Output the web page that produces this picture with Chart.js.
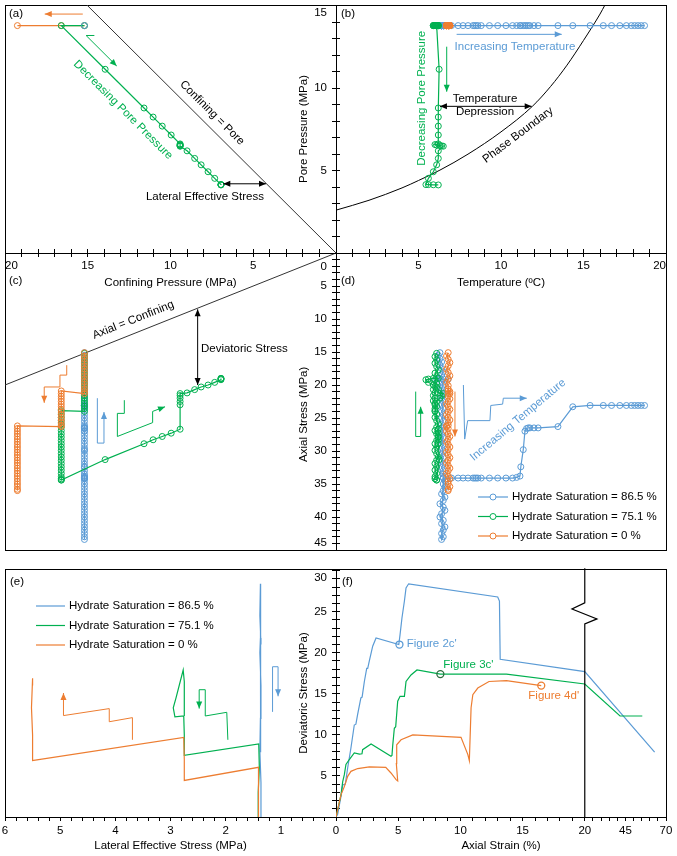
<!DOCTYPE html>
<html>
<head>
<meta charset="utf-8">
<title>Hydrate sample stress paths</title>
<script src="https://cdn.jsdelivr.net/npm/chart.js@4.4.1/dist/chart.umd.min.js"></script>
<style>
  body { margin: 0; background: #fff; }
  #fig { position: relative; width: 677px; height: 856px; overflow: hidden; }
  #fig canvas { position: absolute; }
  .frame { position: absolute; box-sizing: border-box; border: 1px solid #000; }
</style>
</head>
<body>
<div id="fig">
  <div class="frame" style="left:5px;top:5px;width:662px;height:546px"></div>
  <div class="frame" style="left:5px;top:569px;width:662px;height:249px;border-bottom:none"></div>
  <canvas id="pa" width="341" height="300" style="left:0;top:0"></canvas>
  <canvas id="pb" width="377" height="300" style="left:290px;top:0"></canvas>
  <canvas id="pc" width="341" height="305" style="left:0;top:248px"></canvas>
  <canvas id="pd" width="377" height="305" style="left:290px;top:248px"></canvas>
  <canvas id="pe" width="341" height="292" style="left:0;top:564px"></canvas>
  <canvas id="pf" width="387" height="292" style="left:290px;top:564px"></canvas>
</div>
<script>
const FONT = "'Liberation Sans', Arial, Helvetica, sans-serif";
Chart.defaults.font.family = FONT;
Chart.defaults.font.size = 11.5;
Chart.defaults.color = '#000';

const BLUE = '#5B9BD5', GREEN = '#00B050', ORANGE = '#ED7D31', DARKGREEN = '#2E6B3F';

const labelBlue = 'Hydrate Saturation = 86.5 %';
const labelGreen = 'Hydrate Saturation = 75.1 %';
const labelOrange = 'Hydrate Saturation = 0 %';

// --- test conditions (MPa) ---
const initialPore = 13.8;
const confStart = 15.2;   // all samples
const confStep2 = 16.6;   // 75.1 % and 0 %
const confStep3 = 19.25;  // 0 % only
const unitLine = [0, 20]; // confining = pore, axial = confining

// --- 86.5 %: axial loading at 15.2 MPa confining ---
const blueLoadAxial = [
  15.1, 15.5, 16.0, 16.5, 17.0, 17.5, 18.0, 18.5, 19.0,
  19.1, 19.1, 19.1,
  19.5, 20.0, 20.5, 21.0, 21.5, 22.0, 22.5, 23.0, 23.5, 24.0,
  24.5, 25.0, 25.5, 26.0, 26.5, 27.0, 27.5, 28.0, 28.5, 29.0,
  29.5, 30.0, 30.5, 31.0, 31.5, 32.0, 32.5, 33.0, 33.5, 34.0,
  34.5, 35.0, 35.5, 36.0, 36.5, 37.0, 37.5, 38.0, 38.5, 39.0,
  39.5, 40.0, 40.5, 41.0, 41.5, 42.0, 42.5, 43.0, 43.4
];
const blueLoadTemp = [
  6.3, 6.2, 6.3, 6.4, 6.3, 6.4, 6.5, 6.4, 6.3,
  6.1, 6.5, 6.8,
  6.4, 6.5, 6.4, 6.4, 6.5, 6.4, 6.5, 6.4, 6.5, 6.4,
  6.5, 6.4, 6.5, 6.4, 6.4, 6.5, 6.4, 6.5, 6.4, 6.5,
  6.4, 6.5, 6.4, 6.5, 6.4, 6.5, 6.4, 6.5, 6.5, 6.5,
  6.6, 6.5, 6.6, 6.5, 6.4, 6.6, 6.5, 6.3, 6.5, 6.6,
  6.4, 6.3, 6.5, 6.4, 6.6, 6.5, 6.4, 6.5, 6.4
];
// --- 86.5 %: heating ---
const blueHeatTemp = [
  6.5, 7.0, 7.4, 7.7, 8.0, 8.3, 8.4, 8.5, 8.6, 8.8,
  9.3, 9.8, 10.3, 10.7, 10.95, 11.15, 11.2, 11.35, 11.45, 11.55,
  11.65, 11.75, 12.0, 12.25, 13.45, 14.35, 15.4, 16.2, 16.7, 17.2,
  17.6, 17.9, 18.1, 18.3, 18.5, 18.7
];
const blueHeatAxial = [
  34.1, 34.1, 34.1, 34.1, 34.1, 34.1, 34.1, 34.1, 34.1, 34.1,
  34.1, 34.1, 34.1, 34.1, 34.0, 33.8, 32.4, 29.8, 27.0, 26.6,
  26.5, 26.5, 26.5, 26.5, 26.3, 23.3, 23.1, 23.1, 23.1, 23.1,
  23.1, 23.1, 23.1, 23.1, 23.1, 23.1
];

// --- 75.1 %: loading at 15.2 then 16.6 MPa confining ---
const greenLoad1Axial = [15.2, 15.7, 16.2, 16.7, 17.2, 17.7, 18.2, 18.7, 19.2, 19.7,
  20.2, 20.7, 21.2, 21.6, 22.0, 22.4, 22.8, 23.2, 23.6, 24.0];
const greenLoad1Temp = [6.1, 6.0, 6.1, 6.0, 6.1, 6.2, 6.0, 6.1, 6.0, 6.1,
  6.0, 5.9, 6.0, 5.9, 6.0, 5.9, 6.0, 6.1, 6.0, 6.0];
const greenLoad2Axial = [23.9, 24.4, 24.9, 25.4, 25.9, 26.4, 26.9, 27.4, 27.9, 28.4,
  28.9, 29.4, 29.9, 30.4, 30.9, 31.4, 31.9, 32.4, 32.9, 33.4, 33.9, 34.2, 34.4];
const greenLoad2Temp = [6.0, 6.1, 6.0, 6.1, 6.2, 6.1, 6.0, 6.1, 6.2, 6.1,
  6.0, 6.1, 6.0, 6.1, 6.2, 6.1, 6.0, 6.1, 6.0, 6.1, 6.0, 6.0, 6.1];
// --- 75.1 %: depressurisation ---
const greenDepConf  = [16.6, 13.95, 11.6, 11.05, 10.5, 9.96, 9.42, 9.42, 9.42, 9.42, 9.42, 9.42,
  9.0, 8.54, 8.15, 7.73, 7.33, 6.95, 6.95, 6.95, 6.95];
const greenDepPore  = [13.8, 11.15, 8.8, 8.25, 7.7, 7.16, 6.62, 6.58, 6.55, 6.52, 6.5, 6.48,
  6.2, 5.74, 5.35, 4.93, 4.53, 4.15, 4.15, 4.14, 4.13];
const greenDepAxial = [34.4, 31.3, 28.9, 28.3, 27.8, 27.3, 26.7, 23.0, 22.5, 22.0, 21.6, 21.3,
  21.2, 20.7, 20.3, 20.0, 19.6, 19.2, 19.1, 19.0, 19.0];
const greenDepTemp  = [6.1, 6.25, 6.2, 6.2, 6.2, 6.2, 6.2, 6.0, 6.1, 6.3, 6.4, 6.5,
  6.2, 6.2, 6.1, 5.9, 5.6, 5.45, 5.6, 5.9, 6.2];

// --- 0 %: loading at 15.2, 16.6 and 19.25 MPa confining ---
const orangeLoad1Axial = [15.1, 15.6, 16.1, 16.6, 17.1, 17.6, 18.1, 18.6, 19.1, 19.6, 20.1, 20.6, 21.0, 21.3];
const orangeLoad1Temp  = [6.8, 6.7, 6.8, 6.9, 6.8, 6.7, 6.8, 6.9, 6.8, 6.7, 6.8, 6.8, 6.9, 6.8];
const orangeLoad2Axial = [20.9, 21.3, 21.7, 22.1, 22.5, 22.9, 23.3, 23.7, 24.1, 24.5, 24.9, 25.3, 25.7, 26.1, 26.3];
const orangeLoad2Temp  = [6.8, 6.9, 6.8, 6.9, 6.8, 6.7, 6.8, 6.9, 6.8, 6.7, 6.8, 6.9, 6.8, 6.8, 6.7];
const orangeLoad3Axial = [26.2, 26.6, 27.0, 27.4, 27.8, 28.2, 28.6, 29.0, 29.4, 29.8,
  30.2, 30.6, 31.0, 31.4, 31.8, 32.2, 32.6, 33.0, 33.4, 33.8, 34.2, 34.6, 35.0, 35.4, 35.8, 36.0];
const orangeLoad3Temp  = [6.7, 6.8, 6.7, 6.8, 6.9, 6.8, 6.7, 6.8, 6.9, 6.8,
  6.7, 6.8, 6.9, 6.8, 6.7, 6.8, 6.9, 6.8, 6.7, 6.8, 6.9, 6.8, 6.8, 6.9, 6.8, 6.8];

// --- methane hydrate phase boundary ---
const phaseTemp = [0, 2, 4, 5, 6.3, 8, 10, 11.9, 13, 14, 15, 16, 16.3, 16.6];
const phasePore = [2.6, 3.2, 3.95, 4.4, 5.03, 6.0, 7.35, 8.9, 10.1, 11.4, 12.9, 14.5, 15.05, 15.6];

// --- (e) lateral effective stress vs deviatoric stress ---
const blueLateral   = [1.37, 1.36, 1.38, 1.37, 1.36, 1.38, 1.37, 1.36, 1.38, 1.37, 1.36, 1.37, 1.37];
const blueDevE      = [0, 4.2, 8.0, 12.0, 16.0, 20.0, 21.8, 21.0, 24.5, 28.4, 26.5, 19.2, 7.9];
const greenLateral  = [1.40, 1.41, 1.39, 1.40, 2.75, 2.75, 2.76, 2.92, 2.95, 2.90, 2.77, 2.75, 2.75];
const greenDevE     = [0, 3.0, 6.0, 8.9, 7.5, 10.0, 12.3, 12.2, 13.3, 14.5, 17.9, 16.5, 12.3];
const orangeLateral = [1.40, 1.40, 1.41, 2.75, 2.75, 2.76, 5.51, 5.50, 5.52, 5.50, 5.50];
const orangeDevE    = [0, 3.0, 6.05, 4.45, 7.0, 9.7, 6.87, 10.0, 13.3, 16.9, 16.0];

// --- (f) axial strain (%) vs deviatoric stress ---
const blueStrain = [0, 0.13, 0.4, 0.54, 0.75, 0.94, 1.2, 1.47, 1.6, 1.74,
  2.0, 2.1, 2.28, 2.47, 2.55, 2.68, 2.95, 3.22, 5.05, 5.15,
  5.3, 5.5, 5.63, 5.84, 13.0, 13.14, 13.2, 20.0, 63.0];
const blueDevF = [0, 0.3, 2.5, 3.9, 4.0, 6.0, 8.4, 11.2, 11.3, 12.5,
  14.5, 14.6, 16.5, 18.1, 18.1, 19.0, 20.8, 21.8, 21.0, 22.2,
  24.2, 26.3, 27.9, 28.4, 26.8, 26.3, 19.2, 17.7, 7.9];
const greenStrain = [0, 0.4, 0.54, 0.67, 0.8, 1.07, 1.47, 1.88, 2.09, 2.14,
  2.82, 4.42, 4.5, 4.56, 4.69, 4.8, 4.96, 5.15, 5.5, 5.63,
  6.03, 6.51, 8.39, 13.7, 20.0, 41.7, 55.4];
const greenDevF = [0, 2.7, 4.3, 5.15, 6.4, 7.0, 7.8, 7.66, 7.7, 8.2,
  8.9, 7.4, 7.5, 8.7, 10.8, 11.0, 14.1, 14.7, 14.7, 16.5,
  17.3, 17.9, 17.4, 17.4, 16.2, 12.3, 12.3];
const orangeStrain = [0, 0.4, 0.67, 0.94, 1.2, 1.74, 2.68, 4.0, 4.42, 4.83,
  4.96, 4.85, 4.88, 5.23, 6.17, 10.05, 10.6, 10.72, 10.86, 11.0,
  11.4, 12.3, 13.7, 16.5];
const orangeDevF = [0, 2.7, 3.7, 4.95, 5.56, 5.9, 6.1, 6.05, 5.36, 4.55,
  4.4, 6.5, 8.8, 9.4, 10.0, 9.7, 7.6, 6.86, 13.3, 14.9,
  15.7, 16.5, 16.6, 16.0];
const fig2cPoint = [5.1, 21.0];
const fig3cPoint = [8.39, 17.4];
const fig4dPoint = [16.5, 16.0];

// --- tick labels ---
const confLabels = [5, 10, 15, 20];
const poreLabels = [5, 10, 15];
const tempLabels = [5, 10, 15, 20];
const axialLabels = [0, 5, 10, 15, 20, 25, 30, 35, 40, 45];
const lateralLabels = [1, 2, 3, 4, 5, 6];
const devLabels = [5, 10, 15, 20, 25, 30];
const strainLabels = [0, 5, 10, 15, 20, 45, 70];

// broken strain axis: 0-20 % linear, 20-70 % squeezed
const squeeze = 0.1306;
const strainToAxis = s => s <= 20 ? s : 20 + (s - 20) * squeeze;
const axisToStrain = v => v <= 20 ? v : 20 + (v - 20) / squeeze;

// ---------- helpers ----------
const pts = (xs, ys) => xs.map((x, i) => ({x, y: ys[i]}));
const atY = (xs, y) => xs.map(x => ({x, y}));
const atX = (x, ys) => ys.map(y => ({x, y}));
const r3 = v => Math.round(v * 1000) / 1000;

function range(a, b, step) {
  const out = [];
  for (let v = a; v <= b + 1e-9; v += step) out.push(r3(v));
  return out;
}

function labelsFor(show, edge) {
  return v => {
    const k = r3(v);
    if (edge && edge[k]) return edge[k];
    return show.includes(k) ? String(k) : '';
  };
}

function axis(o) {
  return {
    type: 'linear', position: o.pos, min: o.min, max: o.max, reverse: !!o.reverse,
    afterBuildTicks: s => { s.ticks = o.ticks.map(v => ({value: v})); },
    afterFit: s => {
      if (s.isHorizontal()) s.height = o.size; else s.width = o.size;
      s.paddingTop = s.paddingBottom = s.paddingLeft = s.paddingRight = 0;
    },
    grid: {drawOnChartArea: false, drawTicks: true, tickLength: 4, tickColor: '#000', tickWidth: 1},
    border: {display: true, color: '#000', width: 1},
    ticks: {
      display: !!o.label, autoSkip: false, maxRotation: 0, minRotation: 0,
      padding: o.pad || 3, align: o.align || 'center', color: '#000',
      callback: o.label || (() => '')
    },
    title: o.title
      ? {display: true, text: o.title, color: '#000', padding: o.tpad}
      : {display: false}
  };
}

function series(label, color, data, order, radius) {
  return {
    label, data, order, showLine: true,
    borderColor: color, backgroundColor: color, borderWidth: 1.2,
    pointRadius: radius, pointHoverRadius: radius, pointBorderWidth: 1,
    pointBorderColor: color, pointBackgroundColor: 'rgba(255,255,255,0)'
  };
}

function refLine(data, extra) {
  return Object.assign({
    label: 'ref', data, order: 9, showLine: true, borderColor: '#333',
    borderWidth: 1, pointRadius: 0, pointHoverRadius: 0
  }, extra || {});
}

function marker(point, color) {
  return {
    label: 'marker', data: [{x: strainToAxis(point[0]), y: point[1]}], order: 0,
    showLine: false, pointRadius: 3.5, pointHoverRadius: 3.5, pointBorderWidth: 1.3,
    pointBorderColor: color, pointBackgroundColor: 'rgba(255,255,255,0)'
  };
}

function arrowHead(ctx, from, to) {
  const a = Math.atan2(to[1] - from[1], to[0] - from[0]);
  const len = 7, half = 3;
  ctx.beginPath();
  ctx.moveTo(to[0], to[1]);
  ctx.lineTo(to[0] - len * Math.cos(a) + half * Math.sin(a), to[1] - len * Math.sin(a) - half * Math.cos(a));
  ctx.lineTo(to[0] - len * Math.cos(a) - half * Math.sin(a), to[1] - len * Math.sin(a) + half * Math.cos(a));
  ctx.closePath();
  ctx.fill();
}

// arrows, labels and legends drawn in data space
const notes = {
  id: 'notes',
  afterDatasetsDraw(chart, args, opts) {
    const {ctx, chartArea: ca} = chart;
    const X = v => chart.scales.x.getPixelForValue(v);
    const Y = v => chart.scales.y.getPixelForValue(v);
    for (const it of opts.items || []) {
      ctx.save();
      const color = it.color || '#000';
      ctx.strokeStyle = color;
      ctx.fillStyle = color;
      ctx.lineWidth = it.width || 1;
      ctx.font = `${it.size || 11.5}px ${FONT}`;
      if (it.type === 'arrow' || it.type === 'line') {
        const p = it.pts.map(q => [X(q[0]), Y(q[1])]);
        ctx.beginPath();
        p.forEach((q, i) => i ? ctx.lineTo(q[0], q[1]) : ctx.moveTo(q[0], q[1]));
        ctx.stroke();
        if (it.type === 'arrow') {
          arrowHead(ctx, p[p.length - 2], p[p.length - 1]);
          if (it.both) arrowHead(ctx, p[1], p[0]);
        }
      } else if (it.type === 'text') {
        ctx.translate(X(it.x), Y(it.y));
        ctx.rotate((it.rot || 0) * Math.PI / 180);
        ctx.textAlign = it.align || 'center';
        ctx.textBaseline = 'middle';
        ctx.fillText(it.text, 0, 0);
      } else if (it.type === 'tag') {
        ctx.textAlign = 'left';
        ctx.textBaseline = 'middle';
        ctx.fillText(it.text, ca.left + it.dx, ca.top + it.dy);
      } else if (it.type === 'legend') {
        ctx.textAlign = 'left';
        ctx.textBaseline = 'middle';
        chart.data.datasets.slice(0, 3).forEach((ds, i) => {
          const x0 = ca.left + it.dx, y0 = ca.top + it.dy + i * it.gap;
          ctx.strokeStyle = ds.borderColor;
          ctx.lineWidth = 1.2;
          ctx.beginPath(); ctx.moveTo(x0, y0); ctx.lineTo(x0 + it.len, y0); ctx.stroke();
          if (it.marker) {
            ctx.lineWidth = 1;
            ctx.fillStyle = '#fff';
            ctx.beginPath(); ctx.arc(x0 + it.len / 2, y0, 3, 0, 2 * Math.PI); ctx.fill(); ctx.stroke();
          }
          ctx.fillStyle = '#000';
          ctx.fillText(ds.label, x0 + it.len + 4, y0);
        });
      }
      ctx.restore();
    }
  }
};

function makeChart(id, datasets, scales, padding, items) {
  return new Chart(document.getElementById(id), {
    type: 'scatter',
    data: {datasets},
    options: {
      responsive: false, animation: false, events: [],
      layout: {padding, autoPadding: false},
      plugins: {legend: {display: false}, tooltip: {enabled: false}, notes: {items}},
      scales
    },
    plugins: [notes]
  });
}

const poreMax = 15.05, devMax = 30.2;

// ---------- (a) confining vs pore pressure ----------
makeChart('pa', [
  series(labelBlue, BLUE, [{x: confStart, y: initialPore}], 0, 3),
  series(labelGreen, GREEN, [{x: confStart, y: initialPore}, ...pts(greenDepConf, greenDepPore)], 1, 3),
  series(labelOrange, ORANGE, atY([confStart, confStep2, confStep3], initialPore), 2, 3),
  refLine(pts(unitLine, unitLine))
], {
  x: axis({pos: 'bottom', min: 0, max: 20, reverse: true, ticks: range(0, 20, 1), size: 47,
    label: labelsFor(confLabels), pad: 2, align: 'inner',
    title: 'Confining Pressure (MPa)', tpad: {top: 0, bottom: 10}}),
  y: axis({pos: 'right', min: 0, max: poreMax, ticks: range(0, 15, 1), size: 5})
}, {left: 5, top: 5, right: 0, bottom: 0}, [
  {type: 'arrow', pts: [[15.3, 14.5], [17.6, 14.5]], color: ORANGE},
  {type: 'arrow', pts: [[14.6, 13.2], [15.1, 13.2], [13.25, 11.35]], color: GREEN},
  {type: 'text', x: 12.87, y: 8.68, rot: 45, text: 'Decreasing Pore Pressure', color: GREEN},
  {type: 'text', x: 7.49, y: 8.5, rot: 45, text: 'Confining = Pore'},
  {type: 'arrow', pts: [[6.81, 4.2], [4.23, 4.2]], both: true},
  {type: 'text', x: 7.92, y: 3.4, text: 'Lateral Effective Stress'},
  {type: 'tag', dx: 4, dy: 9, text: '(a)'}
]);

// ---------- (b) temperature vs pore pressure ----------
makeChart('pb', [
  series(labelBlue, BLUE, atY([...blueLoadTemp, ...blueHeatTemp], initialPore), 3, 3),
  series(labelGreen, GREEN, [...atY(greenLoad1Temp, initialPore), ...atY(greenLoad2Temp, initialPore),
    ...pts(greenDepTemp, greenDepPore)], 2, 3),
  series(labelOrange, ORANGE, atY([...orangeLoad1Temp, ...orangeLoad2Temp, ...orangeLoad3Temp], initialPore), 1, 3),
  refLine(pts(phaseTemp, phasePore), {cubicInterpolationMode: 'monotone', borderColor: '#000'})
], {
  x: axis({pos: 'bottom', min: 0, max: 20, ticks: range(0, 20, 1), size: 47,
    label: labelsFor(tempLabels), pad: 2, align: 'inner',
    title: 'Temperature (\u00baC)', tpad: {top: 0, bottom: 10}}),
  y: axis({pos: 'left', min: 0, max: poreMax, ticks: range(0, 15, 1), size: 46,
    label: labelsFor(poreLabels, {15: ['', '15']}), pad: 5,
    title: 'Pore Pressure (MPa)', tpad: {top: 7, bottom: 0}})
}, {left: 0, top: 5, right: 1, bottom: 0}, [
  {type: 'arrow', pts: [[7.31, 13.27], [13.68, 13.27]], color: BLUE},
  {type: 'text', x: 10.85, y: 12.52, text: 'Increasing Temperature', color: BLUE},
  {type: 'arrow', pts: [[6.71, 12.52], [6.71, 9.79]], color: GREEN},
  {type: 'text', x: 5.19, y: 9.39, rot: -90, text: 'Decreasing Pore Pressure', color: GREEN},
  {type: 'arrow', pts: [[6.3, 8.9], [11.86, 8.9]], both: true},
  {type: 'text', x: 9.03, y: 9.36, text: 'Temperature'},
  {type: 'text', x: 9.03, y: 8.55, text: 'Depression'},
  {type: 'text', x: 11.03, y: 7.16, rot: -37, text: 'Phase Boundary'},
  {type: 'tag', dx: 5, dy: 9, text: '(b)'}
]);

// ---------- (c) confining pressure vs axial stress ----------
makeChart('pc', [
  series(labelBlue, BLUE, atX(confStart, [...blueLoadAxial, ...blueHeatAxial]), 3, 3),
  series(labelGreen, GREEN, [...atX(confStart, greenLoad1Axial), ...atX(confStep2, greenLoad2Axial),
    ...pts(greenDepConf, greenDepAxial)], 2, 3),
  series(labelOrange, ORANGE, [...atX(confStart, orangeLoad1Axial), ...atX(confStep2, orangeLoad2Axial),
    ...atX(confStep3, orangeLoad3Axial)], 1, 3),
  refLine(pts(unitLine, unitLine))
], {
  x: axis({pos: 'top', min: 0, max: 20, reverse: true, ticks: range(0, 20, 1), size: 5}),
  y: axis({pos: 'right', min: 0, max: 45, reverse: true, ticks: range(0, 45, 1), size: 5})
}, {left: 5, top: 0, right: 0, bottom: 3}, [
  {type: 'text', x: 12.25, y: 10.15, rot: -21.7, text: 'Axial = Confining'},
  {type: 'text', x: 8.16, y: 14.55, align: 'left', text: 'Deviatoric Stress'},
  {type: 'arrow', pts: [[8.36, 8.53], [8.36, 20.0]], both: true},
  {type: 'arrow', pts: [[16.27, 17.0], [16.27, 18.5], [16.68, 18.5], [16.68, 20.3], [17.63, 20.3], [17.63, 22.7]], color: ORANGE},
  {type: 'arrow', pts: [[14.42, 22.0], [14.42, 28.8], [14.02, 28.8], [14.02, 24.1]], color: BLUE},
  {type: 'arrow', pts: [[12.79, 22.3], [12.79, 24.3], [13.21, 24.3], [13.21, 27.8], [11.08, 25.7], [11.08, 24.0], [10.33, 23.3]], color: GREEN},
  {type: 'tag', dx: 4, dy: 28, text: '(c)'}
]);

// ---------- (d) temperature vs axial stress ----------
makeChart('pd', [
  series(labelBlue, BLUE, [...pts(blueLoadTemp, blueLoadAxial), ...pts(blueHeatTemp, blueHeatAxial)], 3, 3),
  series(labelGreen, GREEN, [...pts(greenLoad1Temp, greenLoad1Axial), ...pts(greenLoad2Temp, greenLoad2Axial),
    ...pts(greenDepTemp, greenDepAxial)], 2, 3),
  series(labelOrange, ORANGE, [...pts(orangeLoad1Temp, orangeLoad1Axial), ...pts(orangeLoad2Temp, orangeLoad2Axial),
    ...pts(orangeLoad3Temp, orangeLoad3Axial)], 1, 3)
], {
  x: axis({pos: 'top', min: 0, max: 20, ticks: range(0, 20, 1), size: 5}),
  y: axis({pos: 'left', min: 0, max: 45, reverse: true, ticks: range(0, 45, 1), size: 46,
    label: labelsFor(axialLabels, {0: ['', '', '0'], 45: ['45', '']}), pad: 5,
    title: 'Axial Stress (MPa)' + '\u00a0'.repeat(8), tpad: {top: 7, bottom: 0}})
}, {left: 0, top: 0, right: 1, bottom: 3}, [
  {type: 'arrow', pts: [[4.83, 21.0], [4.83, 27.8], [5.13, 27.8], [5.13, 23.3]], color: GREEN},
  {type: 'arrow', pts: [[7.21, 21.0], [7.21, 27.8]], color: ORANGE},
  {type: 'arrow', pts: [[7.72, 20.0], [7.8, 28.2], [7.98, 25.4], [9.33, 25.4], [9.38, 23.1], [10.1, 22.9], [10.14, 22.0], [11.56, 22.0]], color: BLUE},
  {type: 'text', x: 11.03, y: 25.3, rot: -40, text: 'Increasing Temperature', color: BLUE},
  {type: 'legend', dx: 142, dy: 244, gap: 19.5, len: 30, marker: true},
  {type: 'tag', dx: 5, dy: 28, text: '(d)'}
]);

// ---------- (e) lateral effective stress vs deviatoric stress ----------
makeChart('pe', [
  series(labelBlue, BLUE, pts(blueLateral, blueDevE), 3, 0),
  series(labelGreen, GREEN, pts(greenLateral, greenDevE), 2, 0),
  series(labelOrange, ORANGE, pts(orangeLateral, orangeDevE), 1, 0)
], {
  x: axis({pos: 'bottom', min: 0, max: 6, reverse: true, ticks: range(0, 6, 0.2), size: 39,
    label: labelsFor(lateralLabels), pad: 3,
    title: 'Lateral Effective Stress (MPa)', tpad: {top: 0, bottom: 3}}),
  y: axis({pos: 'right', min: 0, max: devMax, ticks: range(0, 30, 1), size: 5})
}, {left: 5, top: 5, right: 0, bottom: 0}, [
  {type: 'arrow', pts: [[1.15, 12.8], [1.15, 18.3], [1.05, 18.3], [1.05, 14.7]], color: BLUE},
  {type: 'arrow', pts: [[1.96, 9.4], [1.98, 12.75], [2.37, 12.3], [2.37, 15.5], [2.48, 15.5], [2.48, 13.2]], color: GREEN},
  {type: 'arrow', pts: [[3.69, 9.4], [3.69, 12.1], [4.11, 11.6], [4.11, 13.2], [4.94, 12.35], [4.94, 15.1]], color: ORANGE},
  {type: 'legend', dx: 31, dy: 37, gap: 19.5, len: 29, marker: false},
  {type: 'tag', dx: 5, dy: 13, text: '(e)'}
]);

// ---------- (f) axial strain vs deviatoric stress ----------
const strainTicks = [...range(0, 20, 1), ...range(25, 70, 5).map(strainToAxis)];
const breakLine = [[20, 30.3], [20, 26.07], [18.97, 25.33], [27.5, 24.12], [20, 23.5], [20, 0]];

makeChart('pf', [
  series(labelBlue, BLUE, pts(blueStrain.map(strainToAxis), blueDevF), 3, 0),
  series(labelGreen, GREEN, pts(greenStrain.map(strainToAxis), greenDevF), 2, 0),
  series(labelOrange, ORANGE, pts(orangeStrain.map(strainToAxis), orangeDevF), 1, 0),
  marker(fig2cPoint, BLUE),
  marker(fig3cPoint, DARKGREEN),
  marker(fig4dPoint, ORANGE)
], {
  x: axis({pos: 'bottom', min: 0, max: strainToAxis(70), ticks: strainTicks, size: 39,
    label: v => { const s = r3(axisToStrain(v)); return strainLabels.includes(s) ? String(s) : ''; },
    pad: 3, title: 'Axial Strain (%)', tpad: {top: 0, bottom: 3}}),
  y: axis({pos: 'left', min: 0, max: devMax, ticks: range(0, 30, 1), size: 46,
    label: labelsFor(devLabels, {30: ['', '30']}), pad: 5,
    title: 'Deviatoric Stress (MPa)', tpad: {top: 7, bottom: 0}})
}, {left: 0, top: 5, right: 11, bottom: 0}, [
  {type: 'line', pts: breakLine.map(p => [strainToAxis(p[0]), p[1]]), width: 1.2},
  {type: 'text', x: strainToAxis(5.68), y: 21.07, align: 'left', text: "Figure 2c'", color: BLUE},
  {type: 'text', x: strainToAxis(8.63), y: 18.48, align: 'left', text: "Figure 3c'", color: GREEN},
  {type: 'text', x: strainToAxis(15.46), y: 14.7, align: 'left', text: "Figure 4d'", color: ORANGE},
  {type: 'tag', dx: 6, dy: 13, text: '(f)'}
]);
</script>
</body>
</html>
